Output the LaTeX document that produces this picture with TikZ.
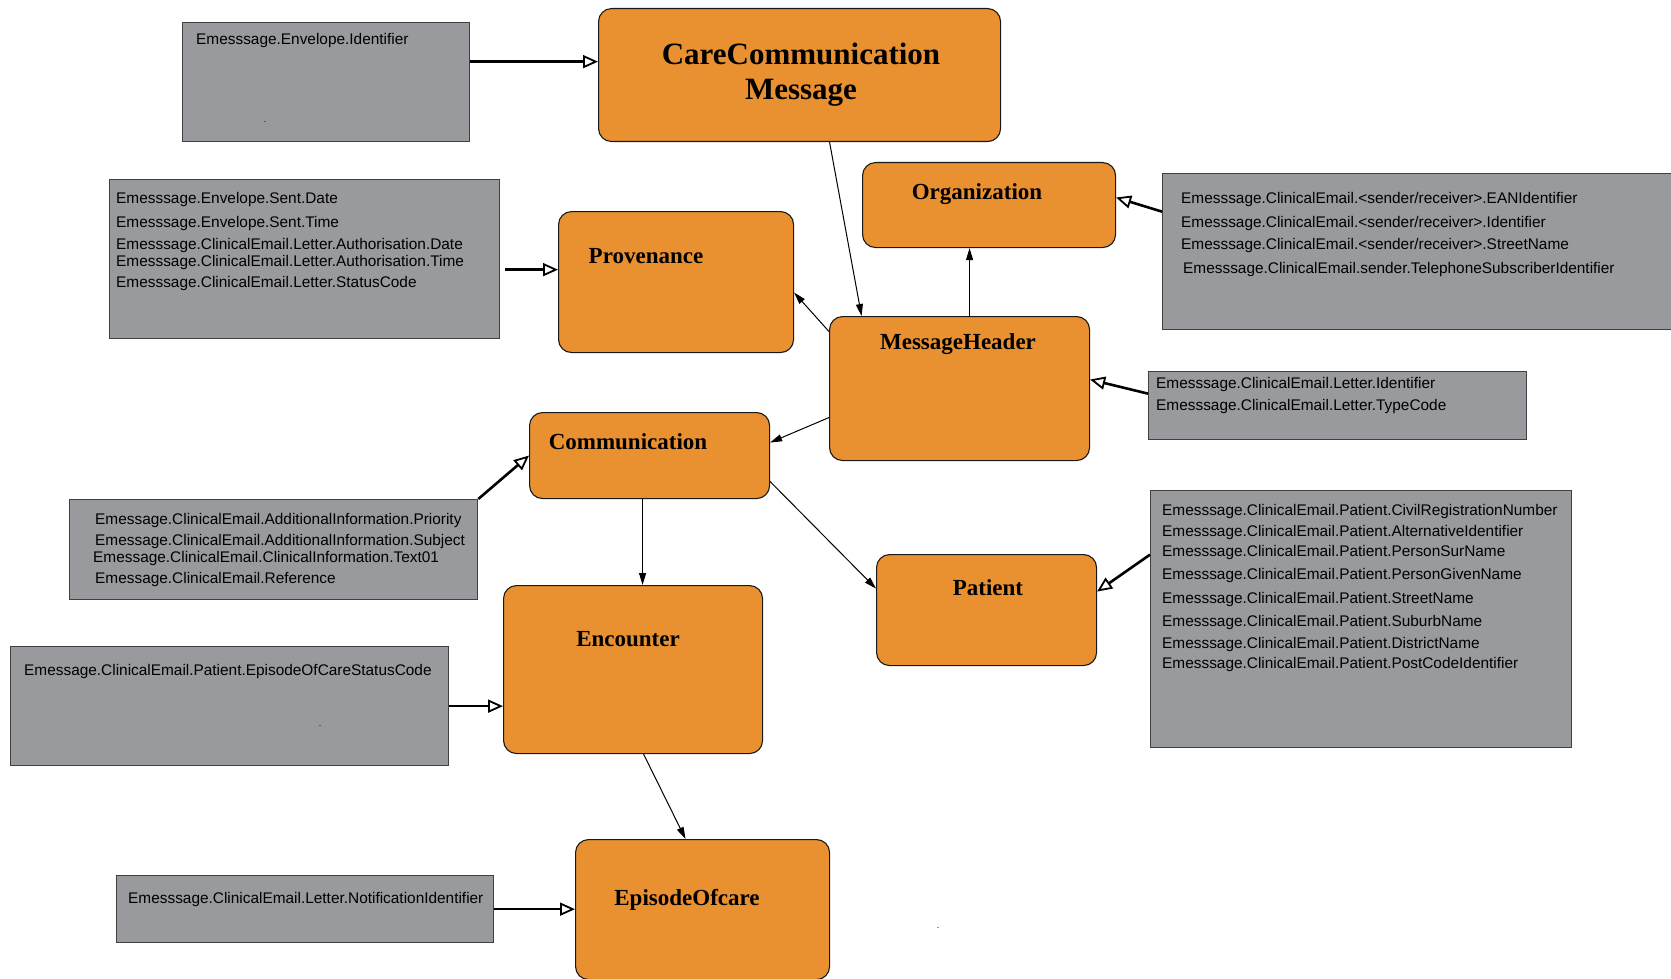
\documentclass[tikz,border=0pt]{standalone}
\usepackage{fontspec}
\setmainfont{Liberation Serif}
\newfontfamily\srcfont{Liberation Sans}
\usetikzlibrary{arrows.meta}
\definecolor{entityorange}{RGB}{233,144,49}
\definecolor{sourcegray}{RGB}{153,154,158}

\begin{document}
\begin{tikzpicture}[x=1pt, y=-1pt,
    entity/.style ={draw=black!90, fill=entityorange, rounded corners=13pt, line width=1.1pt, anchor=north west, inner sep=0pt},
    source/.style ={draw=black!75, fill=sourcegray, line width=1.3pt, anchor=north west, inner sep=0pt},
    title/.style ={font=\fontsize{23}{27}\selectfont\bfseries, inner sep=0pt, anchor=base},
    fields/.style ={font=\srcfont\fontsize{15.4}{21.5}\selectfont, align=left, anchor=north west, inner sep=0pt},
    speck/.style ={font=\srcfont\fontsize{9}{9}\selectfont, inner sep=0pt},
    link/.style ={-{Triangle[length=12pt,width=7pt]}, line width=1pt},
    feed/.style ={-{Triangle[open,length=15pt,width=13pt,line width=1.8pt]}, line width=2.6pt}]
   \useasboundingbox (0,0) rectangle (1671,979);

   % resources
   \node[entity, minimum width=402pt, minimum height=133pt] (cc)   at (598,8)   {};
   \node[entity, minimum width=253pt, minimum height=85pt]  (org)  at (862,162) {};
   \node[entity, minimum width=235pt, minimum height=141pt] (prov) at (558,211) {};
   \node[entity, minimum width=260pt, minimum height=144pt] (mh)   at (829,316) {};
   \node[entity, minimum width=240pt, minimum height=86pt]  (comm) at (529,412) {};
   \node[entity, minimum width=220pt, minimum height=111pt] (pat)  at (876,554) {};
   \node[entity, minimum width=259pt, minimum height=168pt] (enc)  at (503,585) {};
   \node[entity, minimum width=254pt, minimum height=140pt] (epi)  at (575,839) {};

   \node[title, font=\fontsize{31}{35}\selectfont\bfseries, align=center, anchor=center] (cctitle) at (801,75) {CareCommunication\\Message};
   \node[title] (orgtitle)  at (977,199) {Organization};
   \node[title] (provtitle) at (646,263) {Provenance};
   \node[title] (mhtitle)   at (958,349) {MessageHeader};
   \node[title] (commtitle) at (628,449) {Communication};
   \node[title] (pattitle)  at (988,595) {Patient};
   \node[title] (enctitle)  at (628,646) {Encounter};
   \node[title] (epititle)  at (687,905) {EpisodeOfcare};

   % source fields
   \node[source, minimum width=287pt, minimum height=119pt] (envid)     at (182,22)  {};
   \node[source, minimum width=390pt, minimum height=159pt] (provsrc)   at (109,179) {};
   \node[source, minimum width=530pt, minimum height=156pt] (orgsrc)    at (1162,173) {};
   \node[source, minimum width=378pt, minimum height=68pt]  (lettersrc) at (1148,371) {};
   \node[source, minimum width=408pt, minimum height=100pt] (commsrc)   at (69,499)  {};
   \node[source, minimum width=421pt, minimum height=257pt] (patsrc)    at (1150,490) {};
   \node[source, minimum width=438pt, minimum height=119pt] (encsrc)    at (10,646)  {};
   \node[source, minimum width=377pt, minimum height=67pt]  (episrc)    at (116,875) {};

   \node[fields] (envidtext) at (196,33) {Emesssage.Envelope.Identifier};
   \node[fields] (provsrctext) at (116,192) {Emesssage.Envelope.Sent.Date\\[2.5pt]
      Emesssage.Envelope.Sent.Time\\[0.5pt]
      Emesssage.ClinicalEmail.Letter.Authorisation.Date\\[-4.5pt]
      Emesssage.ClinicalEmail.Letter.Authorisation.Time\\[-0.5pt]
      Emesssage.ClinicalEmail.Letter.StatusCode};
   \node[fields] (orgsrctext) at (1181,192) {Emesssage.ClinicalEmail.<sender/receiver>.EANIdentifier\\[2.5pt]
      Emesssage.ClinicalEmail.<sender/receiver>.Identifier\\[0.5pt]
      Emesssage.ClinicalEmail.<sender/receiver>.StreetName\\[2.5pt]
      \hspace*{2pt}Emesssage.ClinicalEmail.sender.TelephoneSubscriberIdentifier};
   \node[fields] (lettersrctext) at (1156,377) {Emesssage.ClinicalEmail.Letter.Identifier\\[0.5pt]
      Emesssage.ClinicalEmail.Letter.TypeCode};
   \node[fields] (commsrctext) at (93,513) {\hspace*{2pt}Emessage.ClinicalEmail.AdditionalInformation.Priority\\[-0.5pt]
      \hspace*{2pt}Emessage.ClinicalEmail.AdditionalInformation.Subject\\[-4.5pt]
      Emessage.ClinicalEmail.ClinicalInformation.Text01\\[0pt]
      \hspace*{2pt}Emessage.ClinicalEmail.Reference};
   \node[fields] (patsrctext) at (1162,504) {Emesssage.ClinicalEmail.Patient.CivilRegistrationNumber\\[-0.5pt]
      Emesssage.ClinicalEmail.Patient.AlternativeIdentifier\\[-1.5pt]
      Emesssage.ClinicalEmail.Patient.PersonSurName\\[1.5pt]
      Emesssage.ClinicalEmail.Patient.PersonGivenName\\[2.5pt]
      Emesssage.ClinicalEmail.Patient.StreetName\\[1.5pt]
      Emesssage.ClinicalEmail.Patient.SuburbName\\[0.5pt]
      Emesssage.ClinicalEmail.Patient.DistrictName\\[-1.5pt]
      Emesssage.ClinicalEmail.Patient.PostCodeIdentifier};
   \node[fields] (encsrctext) at (24,664) {Emessage.ClinicalEmail.Patient.EpisodeOfCareStatusCode};
   \node[fields] (episrctext) at (128,892) {Emesssage.ClinicalEmail.Letter.NotificationIdentifier};

   \node[speck] (speckA) at (265,122) {.};
   \node[speck] (speckB) at (320,726) {.};
   \node[speck] (speckC) at (938,928) {.};

   % resource links
   \draw[link] ([xshift=30pt]cc.south) -- ([xshift=-98pt]mh.north);
   \draw[link] ([xshift=10pt]mh.north) -- ([xshift=10pt]mh.north |- org.south);
   \draw[link] ([yshift=57pt]mh.west) -- ([yshift=-10.5pt]prov.east);
   \draw[link] ([yshift=-29pt]mh.west) -- ([yshift=13pt]comm.east);
   \draw[link] ([yshift=-26pt]comm.east) -- ([yshift=21.5pt]pat.west);
   \draw[link] ([xshift=-7pt]comm.south) -- ([xshift=-7pt]comm.south |- enc.north);
   \draw[link] ([xshift=10.5pt]enc.south) -- ([xshift=-17pt]epi.north);

   % field feeds
   \draw[feed] ([yshift=20.5pt]envid.east) -- ([yshift=20.5pt]envid.east -| cc.west);
   \draw[feed] ([shift={(5pt,-10.5pt)}]provsrc.east) -- ([yshift=-10.5pt]provsrc.east -| prov.west);
   \draw[feed] ([yshift=40pt]orgsrc.west) -- ([yshift=7.5pt]org.east);
   \draw[feed] ([yshift=12pt]lettersrc.west) -- ([yshift=9pt]mh.east);
   \draw[feed] (commsrc.north east) -- (comm.west);
   \draw[feed] ([yshift=64.5pt]patsrc.west) -- ([yshift=18.5pt]pat.east);
   \draw[feed] (encsrc.east) -- (encsrc.east -| enc.west);
   \draw[feed] (episrc.east) -- (episrc.east -| epi.west);
 \end{tikzpicture}
\end{document}
